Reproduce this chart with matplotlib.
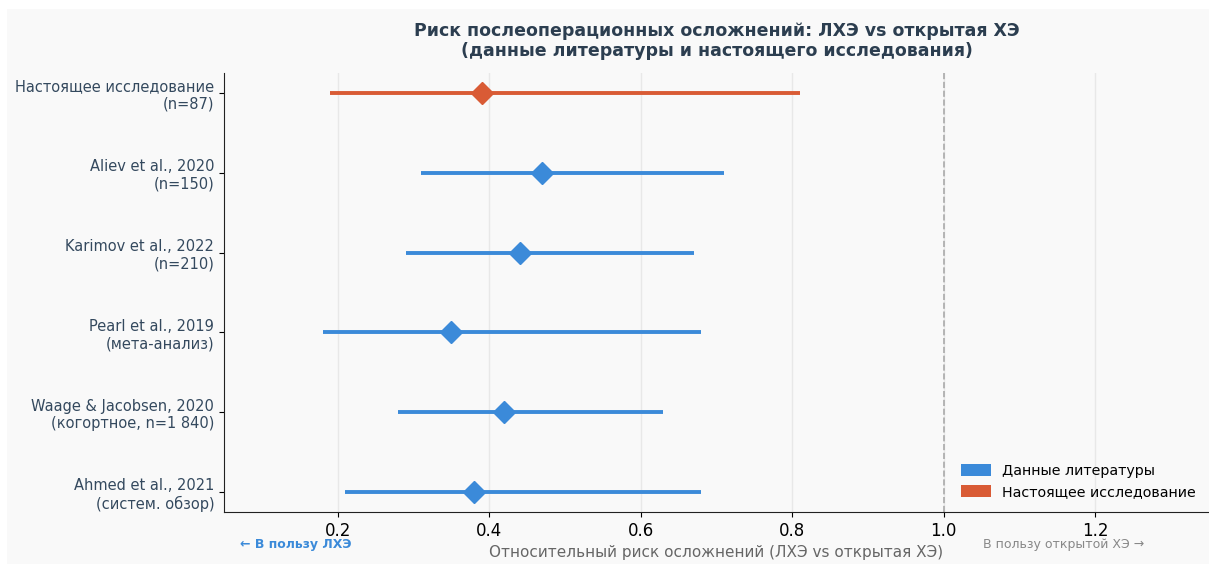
import matplotlib
matplotlib.use("Agg")
import matplotlib.pyplot as plt
from matplotlib.patches import Patch, Rectangle

labels = ["Настоящее исследование\n(n=87)",
          "Aliev et al., 2020\n(n=150)",
          "Karimov et al., 2022\n(n=210)",
          "Pearl et al., 2019\n(мета-анализ)",
          "Waage & Jacobsen, 2020\n(когортное, n=1 840)",
          "Ahmed et al., 2021\n(систем. обзор)"]
rr = [0.39, 0.47, 0.44, 0.35, 0.42, 0.38]
ci_low = [0.19, 0.31, 0.29, 0.18, 0.28, 0.21]
ci_high = [0.81, 0.71, 0.67, 0.68, 0.63, 0.68]
is_current = [True, False, False, False, False, False]

BLUE = "#3b8ad9"
ORANGE = "#d95b35"
BG = "#f9f9f9"

fig = plt.figure(figsize=(12.09, 5.64), dpi=100, facecolor="white")
fig.patches.append(Rectangle((7/1209, 0), 1 - 7/1209, 1 - 9/564, transform=fig.transFigure,
                             facecolor=BG, edgecolor="none", zorder=-10))
ax = fig.add_axes([224/1209, 52/564, 1 - 224/1209, (512-73)/564])
ax.set_facecolor(BG)

n = len(labels)
ys = [n - 1 - i for i in range(n)]
for y, r, lo, hi, cur in zip(ys, rr, ci_low, ci_high, is_current):
    c = ORANGE if cur else BLUE
    ax.plot([lo, hi], [y, y], color=c, lw=2.8, solid_capstyle="butt", zorder=3)
    ax.plot([r], [y], marker="D", ms=11, color=c, mec=c, zorder=4)

ax.axvline(1.0, color="#aaaaaa", ls="--", lw=1.2, zorder=2)
ax.set_xlim(0.05, 1.35)
ax.set_ylim(-0.25, n - 0.75)
ax.set_yticks(ys)
ax.set_yticklabels(labels, fontsize=10.5, color="#34495e")
ax.set_xticks([0.2, 0.4, 0.6, 0.8, 1.0, 1.2])
ax.set_xticklabels(["0.2", "0.4", "0.6", "0.8", "1.0", "1.2"], fontsize=12)
ax.grid(axis="x", color="#e8e8e8", lw=1, zorder=0)
ax.set_axisbelow(True)
for s in ["top", "right"]:
    ax.spines[s].set_visible(False)
ax.spines["left"].set_color("#222222")
ax.spines["bottom"].set_color("#222222")

ax.set_xlabel("Относительный риск осложнений (ЛХЭ vs открытая ХЭ)", fontsize=11, color="#666666", labelpad=4)
ax.set_title("Риск послеоперационных осложнений: ЛХЭ vs открытая ХЭ\n(данные литературы и настоящего исследования)",
             fontsize=12.5, fontweight="bold", color="#2c3e50", pad=12)

ax.text(0.016, -0.073, "← В пользу ЛХЭ", transform=ax.transAxes, fontsize=9, fontweight="bold",
        color=BLUE, ha="left", va="center")
ax.text(0.771, -0.073, "В пользу открытой ХЭ →", transform=ax.transAxes, fontsize=9,
        color="#888888", ha="left", va="center")

handles = [Patch(facecolor=BLUE, label="Данные литературы"),
           Patch(facecolor=ORANGE, label="Настоящее исследование")]
ax.legend(handles=handles, loc="lower right", frameon=False, fontsize=10.3, handlelength=2.1,
          handleheight=0.9, borderaxespad=0.5)

fig.savefig("out.png", dpi=100, facecolor=fig.get_facecolor())
